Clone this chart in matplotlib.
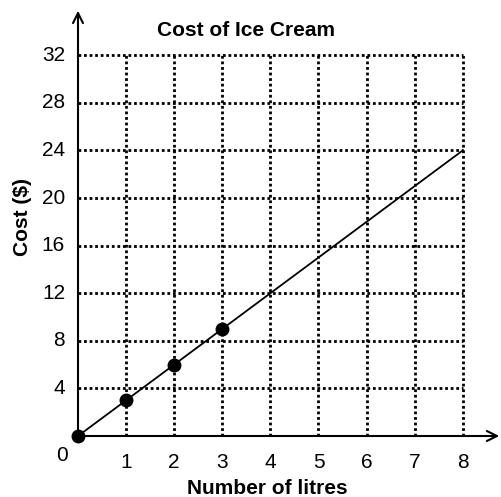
import matplotlib.pyplot as plt

plt.rcParams['font.family'] = ['Liberation Sans', 'DejaVu Sans']

# data
litres = [0, 1, 2, 3]
cost = [0, 3, 6, 9]
line_x = [0, 8]
line_y = [0, 24]
x_ticks = [1, 2, 3, 4, 5, 6, 7, 8]
y_ticks = [4, 8, 12, 16, 20, 24, 28, 32]

fig = plt.figure(figsize=(5.02, 4.97), dpi=100)
# axes span pixel x 78..502, y 436..8 (from top)
ax = fig.add_axes([78 / 502, 61 / 497, 424 / 502, 428 / 497])
ax.set_xlim(0, 424 / 48.1)
ax.set_ylim(0, 428 / 11.9)
ax.axis('off')

# dotted grid
for x in x_ticks:
    ax.plot([x, x], [0, 32], color='black', linestyle=(0, (1, 1)), linewidth=2)
for y in y_ticks:
    ax.plot([0, 8], [y, y], color='black', linestyle=(0, (1, 1)), linewidth=2)

# axes with arrows
ax.annotate('', xy=(424 / 48.1, 0), xytext=(0, 0),
            arrowprops=dict(arrowstyle='->', color='black', lw=1.5, mutation_scale=18),
            annotation_clip=False)
ax.annotate('', xy=(0, 428 / 11.9), xytext=(0, 0),
            arrowprops=dict(arrowstyle='->', color='black', lw=1.5, mutation_scale=18),
            annotation_clip=False)

ax.plot(line_x, line_y, color='black', linewidth=1.3)
ax.plot(litres, cost, 'o', color='black', markersize=9, clip_on=False)

# tick labels
for x in x_ticks:
    ax.text(x, -2.2, str(x), ha='center', va='center', fontsize=15)
for y in y_ticks:
    ax.text(-0.27, y, str(y), ha='right', va='center', fontsize=15)
ax.text(-0.22, -1.6, '0', ha='right', va='center', fontsize=15)

fig.text(246 / 502, 1 - 30 / 497, 'Cost of Ice Cream', ha='center', va='center',
         fontsize=15, fontweight='bold')
fig.text(267 / 502, 1 - 488 / 497, 'Number of litres', ha='center', va='center',
         fontsize=15, fontweight='bold')
fig.text(23 / 502, 1 - 217 / 497, 'Cost ($)', ha='center', va='center',
         fontsize=15, fontweight='bold', rotation=90)

fig.savefig('out.png', dpi=100)
